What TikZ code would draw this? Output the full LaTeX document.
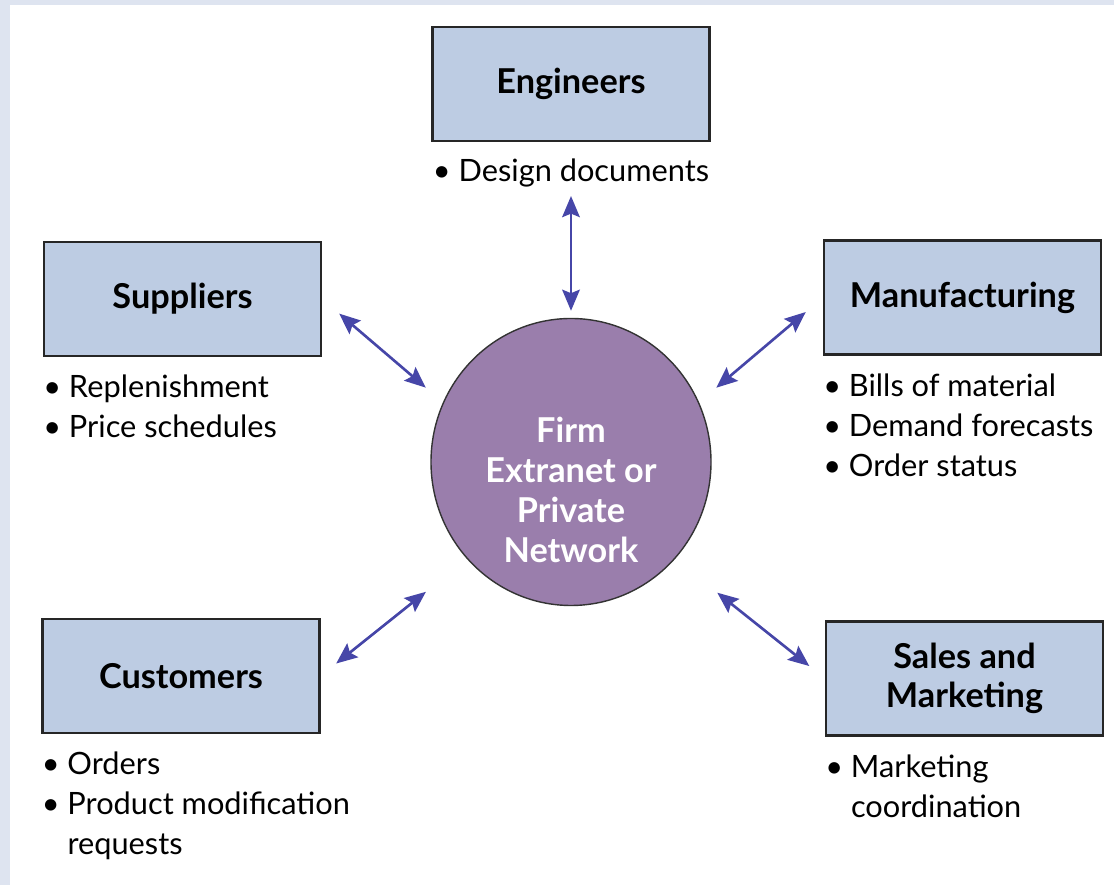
\documentclass[tikz,border=0pt]{standalone}
\usepackage{fontspec}
\setmainfont{Lato}
\usetikzlibrary{calc,arrows.meta,shapes.geometric}

\definecolor{boxblue}{HTML}{BDCCE3}
\definecolor{netpurple}{HTML}{9A7EAC}
\definecolor{linkblue}{HTML}{4646A8}
\definecolor{slidebg}{HTML}{DEE4F0}

\newcommand{\itembul}{\textbullet\ }
\newcommand{\itemcont}{\phantom{\textbullet\ }}

\tikzset{
  party/.style={rectangle, draw=black!85, line width=1.2pt, fill=boxblue,
    minimum width=5.54cm, minimum height=2.28cm, align=center,
    font=\fontsize{19.5}{22.2}\selectfont\bfseries},
  items/.style={anchor=north west, inner sep=0pt, align=left,
    font=\fontsize{17.5}{22.76}\selectfont},
  link/.style={line width=1.5pt, draw=linkblue,
    {Stealth[length=12pt,width=10pt,inset=2pt]}-{Stealth[length=12pt,width=10pt,inset=2pt]}}
}

\begin{document}
\begin{tikzpicture}

  \useasboundingbox (0,0) rectangle (22.28,17.70);
  \fill[slidebg] (0,0) rectangle (22.28,17.70);
  \fill[white] (0.2,0) rectangle (22.28,17.6);

  \node[party] (eng) at (11.42,16.02) {Engineers};
  \node[party] (sup) at (3.65,11.72) {Suppliers};
  \node[party] (man) at (19.25,11.75) {Manufacturing};
  \node[party] (cus) at (3.62,4.18) {Customers};
  \node[party] (sal) at (19.29,4.13) {Sales and\\Marketing};

  \node[ellipse, draw=black!80, line width=.8pt, fill=netpurple,
    minimum width=5.6cm, minimum height=5.74cm] (net) at (11.42,8.46) {};
  \node[text=white, align=center, font=\fontsize{19.5}{22.76}\selectfont\bfseries]
  (netl) at ($(net.center)+(0,-.56)$) {Firm\\Extranet or\\Private\\Network};

  \node[items, anchor=north] (engl) at ($(eng.south)+(0,-.32)$)
  {\itembul Design documents};
  \node[items] (supl) at ($(sup.south west)+(0,-.35)$)
  {\itembul Replenishment\\\itembul Price schedules};
  \node[items] (manl) at ($(man.south west)+(0,-.35)$)
  {\itembul Bills of material\\\itembul Demand forecasts\\\itembul Order status};
  \node[items] (cusl) at ($(cus.south west)+(0,-.35)$)
  {\itembul Orders\\\itembul Product modification\\\itemcont requests};
  \node[items] (sall) at ($(sal.south west)+(0,-.35)$)
  {\itembul Marketing\\\itemcont coordination};

  \draw[link, shorten <=1.08cm, shorten >=.14cm] (eng) -- (net);
  \draw[link, shorten <=.45cm, shorten >=.45cm] (sup.east) -- (net.155);
  \draw[link, shorten <=.45cm, shorten >=.45cm] (man.west) -- (net.25);
  \draw[link, shorten <=.4cm, shorten >=1.05cm] (cus.east) -- (net.223);
  \draw[link, shorten <=.4cm, shorten >=1.08cm] (sal.west) -- (net.317);

\end{tikzpicture}
\end{document}
